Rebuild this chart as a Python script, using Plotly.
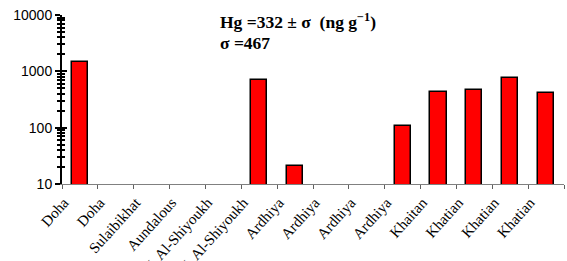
import plotly.graph_objects as go

sites = ["Doha", "Doha", "Sulaibikhat", "Aundalous", "J. Al-Shiyoukh", "J. Al-Shiyoukh",
         "Ardhiya", "Ardhiya", "Ardhiya", "Ardhiya", "Khaitan", "Khatian", "Khatian", "Khatian"]
hg_values = [1480, None, None, None, None, 700, 21, None, None, 106, 436, 461, 756, 408]
y_tickvals = [10, 100, 1000, 10000]
y_ticktext = ["10", "100", "1000", "10000"]

xpos = list(range(len(sites)))
boundaries = [i - 0.5 for i in range(len(sites) + 1)]
minor_vals = [m * d for d in (10, 100, 1000) for m in range(2, 10)]

fig = go.Figure()
fig.add_trace(go.Bar(
    x=xpos, y=hg_values, width=0.45,
    marker=dict(color="#ff0000", line=dict(color="black", width=1.5)),
    hoverinfo="skip", showlegend=False))
fig.add_trace(go.Bar(
    x=xpos, y=hg_values, width=0.45, xaxis="x2", yaxis="y2",
    marker=dict(color="rgba(0,0,0,0)", line=dict(width=0)),
    hoverinfo="skip", showlegend=False))

serif = "Liberation Serif, Times New Roman, serif"
sans = "Liberation Sans, Arial, sans-serif"

fig.update_layout(
    width=567, height=261,
    margin=dict(l=62, r=3, t=15, b=77),
    plot_bgcolor="white", paper_bgcolor="white",
    bargap=0,
    xaxis=dict(
        range=[-0.5, len(sites) - 0.5], tickmode="array", tickvals=xpos, ticktext=sites,
        tickangle=-48, ticks="", showgrid=False, zeroline=False, automargin=False,
        showline=True, linecolor="#808080", linewidth=1, ticklabelshift=-16,
        ticklabelstandoff=3,
        tickfont=dict(family=serif, size=15, color="black")),
    xaxis2=dict(
        range=[-0.5, len(sites) - 0.5], overlaying="x", anchor="y", automargin=False,
        tickmode="array", tickvals=boundaries, showticklabels=False,
        ticks="outside", ticklen=4, tickcolor="#606060", tickwidth=1,
        showgrid=False, zeroline=False, showline=False),
    yaxis=dict(
        type="log", range=[1, 4], tickmode="array", tickvals=y_tickvals, ticktext=y_ticktext,
        ticks="outside", ticklen=5, tickwidth=2, tickcolor="black", automargin=False,
        showline=True, linecolor="black", linewidth=2, showgrid=False, zeroline=False,
        minor=dict(tickmode="array", tickvals=minor_vals, ticks="outside", ticklen=3,
                   tickwidth=2, tickcolor="black", showgrid=False),
        tickfont=dict(family=sans, size=14, color="black")),
    yaxis2=dict(
        type="log", range=[1, 4], overlaying="y", anchor="x", side="left", automargin=False,
        tickmode="array", tickvals=y_tickvals, showticklabels=False,
        ticks="inside", ticklen=5, tickwidth=2, tickcolor="black",
        minor=dict(tickmode="array", tickvals=minor_vals, ticks="inside", ticklen=3,
                   tickwidth=2, tickcolor="black", showgrid=False),
        showgrid=False, zeroline=False, showline=False),
    annotations=[
        dict(text="<b>Hg =332 ± σ  (ng g<sup>−1</sup>)</b>", xref="paper", yref="paper",
             x=0.311, y=0.967, xanchor="left", yanchor="middle", showarrow=False,
             font=dict(family=serif, size=17.5, color="black")),
        dict(text="<b>σ =467</b>", xref="paper", yref="paper",
             x=0.311, y=0.836, xanchor="left", yanchor="middle", showarrow=False,
             font=dict(family=serif, size=17.5, color="black")),
    ],
)

fig.write_html("out.html", config={"displayModeBar": False},
               post_script="document.body.style.margin='0';")
